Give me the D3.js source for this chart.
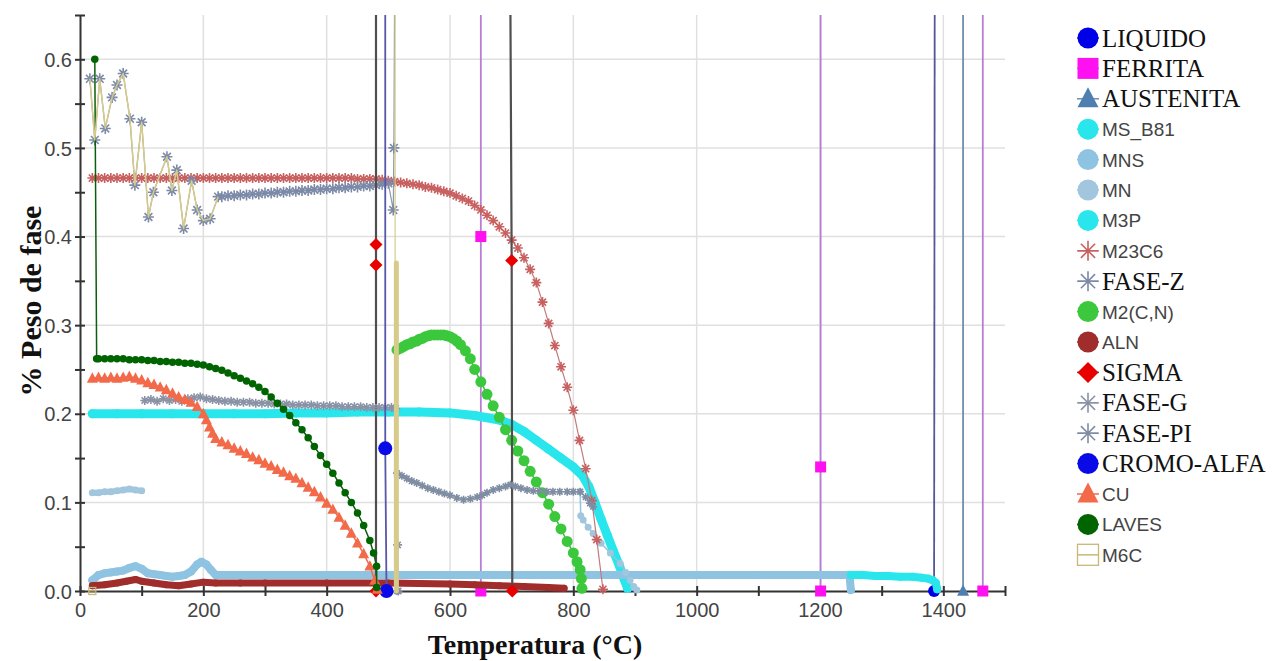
<!DOCTYPE html>
<html>
<head>
<meta charset="utf-8">
<script src="https://cdn.jsdelivr.net/npm/d3@7"></script>
<style>
  body { margin: 0; background: #fff; }
  svg { display: block; }
</style>
</head>
<body>
<div id="chart"></div>
<script>
// ---- data: [temperatura °C, % peso de fase], null breaks a line ----
const liquido = [[1386, 0.65], [1385, 0]];
const ferrita = [[650, 0.65], [650, 0.40], [650, 0], null,
  [1201, 0.65], [1201, 0.14], [1201, 0], null, [1464, 0.65], [1464, 0]];
const austenita = [[1432, 0.65], [1432, 0]];
const msB81 = [[20,.200],[60,.200],[100,.200],[150,.200],[200,.200],[250,.200],[300,.200],[350,.201],
  [400,.201],[450,.202],[500,.202],[550,.202],[600,.201],[640,.198],[680,.193],[700,.188],[720,.180],
  [740,.170],[760,.160],[780,.150],[800,.140],[815,.130],[825,.118],[835,.100],[845,.081],[855,.063],
  [865,.045],[875,.028],[882,.014],[888,.003]];
const mns = [[20,.012],[30,.018],[40,.020],[50,.021],[60,.022],[70,.023],[80,.026],[90,.028],[100,.025],
  [110,.020],[120,.019],[130,.018],[140,.017],[150,.016],[160,.017],[170,.018],[180,.022],[190,.030],
  [197,.033],[205,.030],[212,.024],[220,.018],[300,.018],[400,.018],[500,.018],[600,.018],[700,.018],
  [800,.018],[900,.018],[1000,.018],[1100,.018],[1200,.018],[1248,.018],[1250,.001]];
const mn = [[20,.111],[30,.111],[40,.112],[50,.112],[60,.113],[70,.114],[80,.115],[90,.114],[100,.113], null,
  [811,.112],[812,.085],[816,.080],[824,.072],[832,.065],[845,.054],[860,.043],[876,.031],[885,.021],
  [892,.012],[898,.005],[903,.001]];
const m3p = [[1250,.018],[1270,.018],[1290,.017],[1310,.017],[1330,.016],[1350,.016],[1365,.015],
  [1375,.014],[1383,.012],[1388,.009],[1390,.002]];
const m23c6 = [[20,.466],[30,.466],[40,.466],[50,.466],[60,.466],[70,.466],[80,.466],[90,.466],[100,.466],
  [110,.466],[120,.466],[130,.466],[140,.466],[150,.466],[160,.466],[170,.466],[180,.466],[190,.466],[200,.466],
  [210,.466],[220,.466],[230,.466],[240,.466],[250,.466],[260,.466],[270,.466],[280,.466],[290,.466],[300,.466],
  [310,.466],[320,.466],[330,.466],[340,.466],[350,.466],[360,.466],[370,.466],[380,.466],[390,.466],[400,.466],
  [410,.466],[420,.466],[430,.466],[440,.466],[450,.465],[460,.465],[470,.465],[480,.465],[490,.464],[500,.463],
  [510,.462],[520,.461],[530,.460],[540,.459],[550,.458],[560,.456],[570,.455],[580,.453],[590,.451],[600,.449],
  [610,.446],[620,.443],[630,.440],[640,.435],[650,.430],[660,.424],[670,.418],[680,.411],[690,.404],[700,.396],
  [710,.387],[720,.376],[730,.363],[740,.348],[750,.326],[760,.302],[770,.277],[780,.253],[790,.230],[800,.204],
  [810,.170],[820,.138],[830,.102],[838,.058],[848,.002]];
const zigzag = [[16,.578],[24,.509],[32,.578],[41,.522],[52,.557],[60,.571],[70,.584],[81,.533],[89,.458],
  [100,.529],[111,.422],[119,.450],[141,.490],[149,.452],[157,.475],[168,.409],[181,.463],[190,.430],
  [200,.418],[211,.420],[224,.445]];
const faseZ = zigzag.concat([[230,.445],[240,.446],[250,.446],[260,.447],[270,.447],[280,.448],[290,.448],
  [300,.449],[310,.449],[320,.450],[330,.450],[340,.451],[350,.451],[360,.452],[370,.452],[380,.453],
  [390,.453],[400,.454],[410,.454],[420,.455],[430,.455],[440,.456],[450,.456],[460,.457],[470,.457],
  [480,.458],[490,.459],[500,.460],[508,.430],[509,.500],[510,.650]]);
const m2cn = [[514,.272],[520,.274],[525,.276],[530,.278],[535,.279],[540,.281],[546,.282],[550,.284],
  [555,.285],[560,.287],[565,.288],[570,.289],[575,.289],[580,.289],[585,.289],[590,.289],[595,.288],
  [600,.287],[605,.285],[611,.282],[617,.278],[625,.271],[633,.262],[640,.250],[650,.236],[660,.222],
  [670,.209],[680,.196],[690,.182],[700,.170],[710,.158],[720,.147],[730,.135],[740,.123],[750,.111],
  [760,.098],[770,.084],[780,.070],[790,.056],[800,.043],[806,.033],[811,.024],[813,.014],[814,.003]];
const aln = [[20,.006],[40,.007],[60,.009],[75,.011],[90,.013],[100,.011],[120,.009],[140,.007],[160,.006],
  [180,.008],[200,.010],[220,.009],[260,.009],[300,.009],[400,.009],[500,.009],[600,.008],[640,.007],
  [680,.006],[720,.005],[760,.004],[785,.003]];
const sigma = [[480,0],[480,.368],[480,.391],[480,.65], null, [698,.65],[700,.373],[701,0]];
const faseG = [[105,.215],[115,.216],[125,.214],[135,.217],[145,.215],[155,.216],[165,.214],[175,.217],
  [185,.218],[195,.219],[205,.217],[215,.216],[225,.215],[235,.214],[245,.214],[255,.213],[265,.213],
  [275,.213],[285,.212],[295,.212],[305,.212],[315,.211],[325,.211],[335,.211],[345,.210],[355,.210],
  [365,.210],[375,.210],[385,.209],[395,.209],[405,.209],[415,.209],[425,.208],[435,.208],[445,.208],
  [455,.208],[465,.207],[475,.207],[485,.207],[495,.207],[505,.207],[512,.206],[515,.052],[516,0]];
const fasePI = [[514,0],[514,.133],[522,.130],[530,.127],[538,.124],[546,.122],[555,.119],[564,.116],
  [573,.114],[582,.112],[591,.110],[600,.108],[611,.105],[622,.103],[633,.104],[644,.106],[652,.108],
  [660,.111],[670,.114],[680,.116],[690,.118],[698,.120],[706,.118],[715,.116],[725,.114],[735,.113],
  [745,.113],[757,.112],[767,.112],[778,.112],[790,.112],[800,.112],[811,.112],[820,.106],[827,.099],[832,.095]];
const cromoAlfa = [[495,.65],[495,.161],[497,0]];
const cu = [[20,.240],[30,.241],[40,.240],[50,.241],[60,.240],[70,.241],[80,.242],[90,.240],[100,.238],
  [110,.235],[120,.233],[130,.230],[140,.227],[150,.223],[160,.219],[170,.216],[180,.213],[190,.208],
  [200,.200],[205,.193],[210,.185],[215,.178],[220,.172],[230,.168],[240,.165],[250,.161],[260,.158],
  [270,.155],[280,.151],[290,.148],[300,.144],[310,.141],[320,.137],[330,.134],[340,.130],[350,.127],
  [360,.122],[370,.117],[380,.112],[390,.106],[400,.099],[410,.092],[420,.083],[430,.074],[440,.065],
  [450,.054],[460,.042],[470,.028],[478,.012],[482,.002]];
const laves = [[24,.600],[27,.262],[30,.262],[40,.262],[50,.262],[60,.262],[70,.262],[80,.261],[90,.261],
  [100,.261],[110,.260],[120,.260],[130,.259],[140,.259],[150,.258],[160,.258],[170,.257],[180,.257],
  [190,.256],[200,.255],[210,.253],[220,.251],[230,.249],[240,.246],[250,.243],[260,.240],[270,.237],
  [280,.234],[290,.230],[300,.225],[310,.219],[320,.212],[330,.205],[340,.198],[350,.190],[360,.182],
  [370,.173],[380,.163],[390,.153],[400,.143],[410,.133],[420,.122],[430,.111],[440,.100],[450,.088],
  [460,.074],[470,.057],[476,.043],[481,.028],[481,.004]];
const m6c = zigzag.concat([null, [511,.65],[511,.37], null, [513,.37],[513,0], null, [20,0]]);

const seriesNames = ['LIQUIDO', 'FERRITA', 'AUSTENITA', 'MS_B81', 'MNS', 'MN', 'M3P', 'M23C6', 'FASE-Z',
  'M2(C,N)', 'ALN', 'SIGMA', 'FASE-G', 'FASE-PI', 'CROMO-ALFA', 'CU', 'LAVES', 'M6C'];
const seriesData = [liquido, ferrita, austenita, msB81, mns, mn, m3p, m23c6, faseZ,
  m2cn, aln, sigma, faseG, fasePI, cromoAlfa, cu, laves, m6c];

const xTicks = [0,100,200,300,400,500,600,700,800,900,1000,1100,1200,1300,1400,1500];
const xLabelTicks = [0,200,400,600,800,1000,1200,1400];
const xTickLabels = ['0','200','400','600','800','1000','1200','1400'];
const yTicks = [0,0.05,0.1,0.15,0.2,0.25,0.3,0.35,0.4,0.45,0.5,0.55,0.6,0.65];
const yLabelTicks = [0,0.1,0.2,0.3,0.4,0.5,0.6];
const yTickLabels = ['0.0','0.1','0.2','0.3','0.4','0.5','0.6'];

// ---- styles ----
const styles = {
  'LIQUIDO':    { line: '#56569a', w: 1.8, shape: 'circle', size: 12, color: '#0000e8', legend: 'serif' },
  'FERRITA':    { line: '#b87ed6', w: 1.8, shape: 'square', size: 11, color: '#ff10f0', legend: 'serif' },
  'AUSTENITA':  { line: '#6f8fae', w: 1.8, shape: 'triangle', size: 12, color: '#4f7fb0', legend: 'serif' },
  'MS_B81':     { line: '#28e6ec', w: 9, shape: 'circle', size: 9, color: '#28e6ec', legend: 'sans' },
  'MNS':        { line: '#8ec3e2', w: 8, shape: 'circle', size: 8, color: '#8ec3e2', legend: 'sans' },
  'MN':         { line: '#93c4e0', w: [6, 1.5], shape: 'circle', size: 7, color: '#a2c6de', legend: 'sans' },
  'M3P':        { line: '#28e6ec', w: 8, shape: 'circle', size: 8, color: '#28e6ec', legend: 'sans' },
  'M23C6':      { line: '#c47a7a', w: 1.2, shape: 'star', size: 10, color: '#c86060', legend: 'sans' },
  'FASE-Z':     { line: '#8a98b0', w: 1.2, shape: 'star', size: 11, color: '#7c8aa8', legend: 'serif' },
  'M2(C,N)':    { line: '#3cbc3c', w: 1.5, shape: 'circle', size: 11, color: '#3cc83c', legend: 'sans' },
  'ALN':        { line: '#a02c2c', w: 7, shape: 'circle', size: 7, color: '#a02c2c', legend: 'sans' },
  'SIGMA':      { line: '#4f4f4f', w: 2.2, shape: 'diamond', size: 13, color: '#e80000', legend: 'serif' },
  'FASE-G':     { line: '#9aa0ae', w: 1.2, shape: 'star', size: 9, color: '#8a92a6', legend: 'serif' },
  'FASE-PI':    { line: '#8a96a8', w: 1.2, shape: 'star', size: 8, color: '#7f8da3', legend: 'serif' },
  'CROMO-ALFA': { line: '#5858a8', w: 1.8, shape: 'circle', size: 14, color: '#0a0ae6', legend: 'serif' },
  'CU':         { line: '#f06a4a', w: 1.5, shape: 'triangle', size: 11, color: '#f26a4a', legend: 'sans' },
  'LAVES':      { line: '#0b5e0b', w: 1.5, shape: 'circle', size: 7.5, color: '#006400', legend: 'sans' },
  'M6C':        { line: '#d6cb8a', w: [1.5, 1.2, 5, 1], shape: 'hollow', size: 7, color: '#c8b878',
                  legend: 'sans', markSegs: [3] }
};

const width = 1286, height = 661;
const plot = { left: 80, right: 1005, top: 15, bottom: 591 };

const x = d3.scaleLinear().domain([0, 1500]).range([plot.left, plot.right]);
const y = d3.scaleLinear().domain([0, 0.65]).range([plot.bottom, plot.top]);

const svg = d3.select('#chart').append('svg')
  .attr('width', width)
  .attr('height', height)
  .style('background', '#fff');

// grid
svg.append('g').selectAll('line')
  .data(xLabelTicks.filter(d => d > 0))
  .enter().append('line')
  .attr('x1', d => x(d)).attr('x2', d => x(d))
  .attr('y1', plot.top).attr('y2', plot.bottom)
  .attr('stroke', '#e0e0e0').attr('stroke-width', 1.5);

svg.append('g').selectAll('line')
  .data(yLabelTicks.filter(d => d > 0))
  .enter().append('line')
  .attr('x1', plot.left).attr('x2', plot.right)
  .attr('y1', d => y(d)).attr('y2', d => y(d))
  .attr('stroke', '#e0e0e0').attr('stroke-width', 1.5);

// axes
const xAxis = d3.axisBottom(x)
  .tickValues(xTicks)
  .tickSizeOuter(0)
  .tickFormat(d => { const i = xLabelTicks.indexOf(d); return i >= 0 ? xTickLabels[i] : ''; });

const yAxis = d3.axisLeft(y)
  .tickValues(yTicks)
  .tickSizeOuter(0)
  .tickFormat((d, i) => (i % 2 === 0 ? yTickLabels[i / 2] : ''));

const gx = svg.append('g')
  .attr('transform', 'translate(0,' + plot.bottom + ')')
  .call(xAxis);
const gy = svg.append('g')
  .attr('transform', 'translate(' + plot.left + ',0)')
  .call(yAxis);

[gx, gy].forEach(g => {
  g.select('.domain').attr('stroke', '#333').attr('stroke-width', 2);
  g.selectAll('.tick line').attr('stroke', '#333').attr('stroke-width', 2);
  g.selectAll('.tick text')
    .attr('fill', '#444')
    .style('font-family', '"Liberation Sans", Arial, sans-serif')
    .style('font-size', '20px');
});
gx.selectAll('.tick line').attr('y1', -5).attr('y2', 5);
gx.selectAll('.tick text').attr('y', 26).attr('dy', 0);
gy.selectAll('.tick line').attr('x1', 5).attr('x2', -5);
gy.selectAll('.tick text').attr('x', -8).attr('dy', '0.36em');

// axis titles
svg.append('text')
  .attr('x', 535)
  .attr('y', 654)
  .attr('text-anchor', 'middle')
  .style('font-family', '"Liberation Serif", "Times New Roman", serif')
  .style('font-weight', 'bold')
  .style('font-size', '28px')
  .attr('fill', '#111')
  .text('Temperatura (°C)');

svg.append('text')
  .attr('transform', 'translate(41,301) rotate(-90)')
  .attr('text-anchor', 'middle')
  .style('font-family', '"Liberation Serif", "Times New Roman", serif')
  .style('font-weight', 'bold')
  .style('font-size', '30px')
  .attr('fill', '#111')
  .text('% Peso de fase');

// markers
function starPath(r) {
  const d = r * 0.707;
  return 'M' + (-r) + ',0L' + r + ',0M0,' + (-r) + 'L0,' + r +
    'M' + (-d) + ',' + (-d) + 'L' + d + ',' + d + 'M' + (-d) + ',' + d + 'L' + d + ',' + (-d);
}

function drawMarker(g, shape, cx, cy, s, color) {
  const h = s / 2;
  if (shape === 'circle') {
    g.append('circle').attr('cx', cx).attr('cy', cy).attr('r', h).attr('fill', color);
  } else if (shape === 'square') {
    g.append('rect').attr('x', cx - h).attr('y', cy - h).attr('width', s).attr('height', s).attr('fill', color);
  } else if (shape === 'triangle') {
    g.append('path')
      .attr('d', 'M' + cx + ',' + (cy - h * 1.1) + 'L' + (cx + h) + ',' + (cy + h * 0.8) + 'L' + (cx - h) + ',' + (cy + h * 0.8) + 'Z')
      .attr('fill', color);
  } else if (shape === 'diamond') {
    g.append('path')
      .attr('d', 'M' + cx + ',' + (cy - h) + 'L' + (cx + h) + ',' + cy + 'L' + cx + ',' + (cy + h) + 'L' + (cx - h) + ',' + cy + 'Z')
      .attr('fill', color);
  } else if (shape === 'star') {
    g.append('path')
      .attr('transform', 'translate(' + cx + ',' + cy + ')')
      .attr('d', starPath(h))
      .attr('fill', 'none').attr('stroke', color).attr('stroke-width', 1.6);
  } else if (shape === 'hollow') {
    g.append('rect').attr('x', cx - h).attr('y', cy - h).attr('width', s).attr('height', s)
      .attr('fill', 'none').attr('stroke', color).attr('stroke-width', 1.3);
    g.append('line').attr('x1', cx - h).attr('x2', cx + h).attr('y1', cy).attr('y2', cy)
      .attr('stroke', color).attr('stroke-width', 1);
  }
}

const line = d3.line().x(d => x(d[0])).y(d => y(d[1]));

function segments(data) {
  const segs = [];
  let cur = [];
  data.forEach(p => {
    if (p === null) { if (cur.length) segs.push(cur); cur = []; }
    else cur.push(p);
  });
  if (cur.length) segs.push(cur);
  return segs;
}

// series
seriesNames.forEach((name, k) => {
  const st = styles[name];
  const g = svg.append('g').attr('class', 'series');
  const segs = segments(seriesData[k]);
  segs.forEach((seg, i) => {
    if (seg.length < 2) return;
    const w = Array.isArray(st.w) ? st.w[i] : st.w;
    g.append('path')
      .datum(seg)
      .attr('d', line)
      .attr('fill', 'none')
      .attr('stroke', st.line)
      .attr('stroke-width', w)
      .attr('stroke-linejoin', 'round')
      .attr('stroke-linecap', w > 4 ? 'round' : 'butt');
  });
  segs.forEach((seg, i) => {
    if (st.markSegs && !st.markSegs.includes(i)) return;
    seg.filter(p => p[1] < 0.65).forEach(p => drawMarker(g, st.shape, x(p[0]), y(p[1]), st.size, st.color));
  });
});

// legend
const legend = svg.append('g').attr('id', 'legend');
seriesNames.forEach((name, i) => {
  const st = styles[name];
  const cy = 38 + i * 30.4;
  const cx = 1088;
  legend.append('line')
    .attr('x1', cx - 11).attr('x2', cx + 11).attr('y1', cy).attr('y2', cy)
    .attr('stroke', st.line).attr('stroke-width', 1.5);
  drawMarker(legend, st.shape, cx, cy, st.shape === 'star' ? 20 : 21, st.color);
  const serif = st.legend === 'serif';
  legend.append('text')
    .attr('x', 1102)
    .attr('y', cy + (serif ? 8.5 : 7))
    .style('font-family', serif ? '"Liberation Serif", "Times New Roman", serif' : '"Liberation Sans", Arial, sans-serif')
    .style('font-size', serif ? '25px' : '19px')
    .attr('fill', serif ? '#111' : '#444')
    .text(name);
});
</script>
</body>
</html>
